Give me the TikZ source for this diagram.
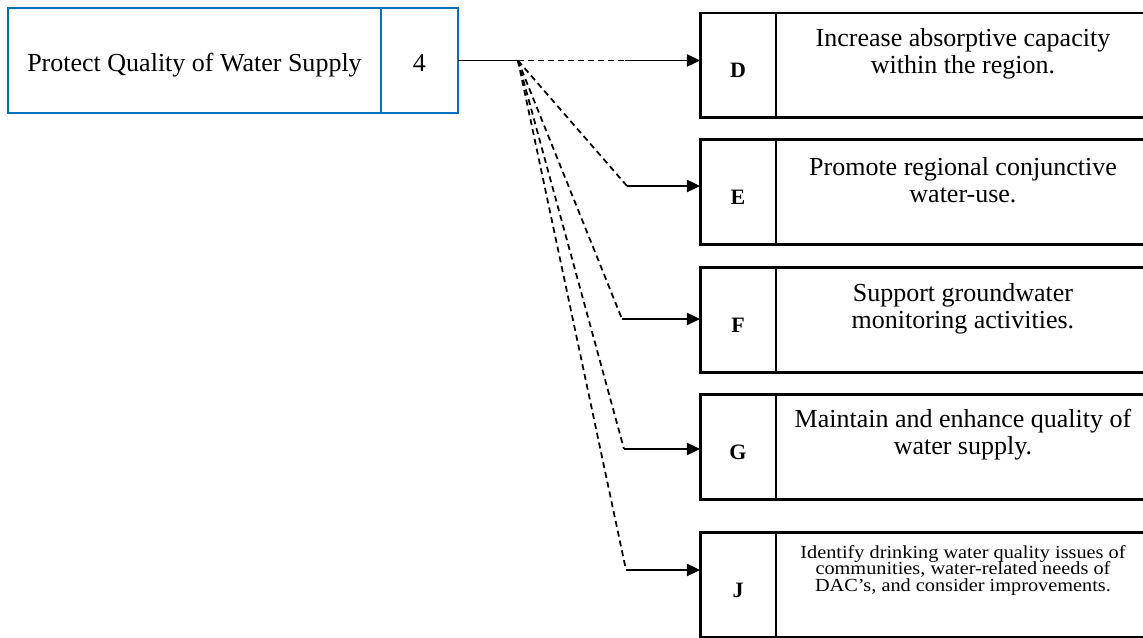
\documentclass[tikz,border=0pt]{standalone}
\usepackage{fontspec}
\setmainfont{Liberation Serif}
\newfontfamily\widefont[FakeStretch=1.1]{Liberation Serif}
\newcommand\tightfont{\widefont\fontsize{10.5}{9.4}\selectfont\lineskiplimit=-20pt\relax}
\usepackage{xcolor}
\usepackage{tikz}
\usetikzlibrary{arrows.meta,positioning}
\definecolor{srcblue}{RGB}{0,112,192}

\begin{document}
\begin{tikzpicture}[
    x=0.02cm, y=-0.02cm,
    every node/.style={font=\fontsize{14.8}{15.5}\selectfont},
    srcbox/.style={
      rectangle, draw=srcblue, line width=1.6pt, outer sep=0pt,
      inner sep=0pt, minimum height=2.1cm, text height=15.8pt, text depth=3.2pt
    },
    keybox/.style={
      rectangle, draw=black, line width=1.7pt, outer sep=0pt, inner sep=0pt,
      minimum width=1.52cm, minimum height=2.1cm, text height=13.4pt, text depth=0pt,
      font=\fontsize{12.5}{14}\selectfont\bfseries
    },
    goalbox/.style={
      rectangle, draw=black, line width=1.7pt, outer sep=0pt, inner sep=0pt,
      minimum width=7.48cm, minimum height=2.1cm
    },
    goaltext/.style={align=center, inner sep=0pt},
    link/.style={dash pattern=on 3.4pt off 2.3pt, line width=1pt},
    arr/.style={-{Triangle[length=7.5pt,width=7pt]}, line width=1.1pt}
  ]
    \clip (0,0) rectangle (1143,638);

    % Objective
    \node[srcbox, minimum width=7.46cm] (obj) at (194.5,60.5) {Protect Quality of Water Supply};
    \node[srcbox, minimum width=1.54cm, right=0pt of obj] (num) {4};

    % Goals
    \node[keybox] (kD) at (738,65.5) {D};
    \node[goalbox, right=0pt of kD] (gD) {};
    \node[goaltext] (tD) at ([yshift=0.24cm]gD.center) {Increase absorptive capacity\\within the region.};

    \node[keybox, below=0.44cm of kD] (kE) {E};
    \node[goalbox, right=0pt of kE] (gE) {};
    \node[goaltext] (tE) at ([yshift=0.25cm]gE.center) {Promote regional conjunctive\\water-use.};

    \node[keybox, below=0.46cm of kE] (kF) {F};
    \node[goalbox, right=0pt of kF] (gF) {};
    \node[goaltext] (tF) at ([yshift=0.24cm]gF.center) {Support groundwater\\monitoring activities.};

    \node[keybox, below=0.44cm of kF] (kG) {G};
    \node[goalbox, right=0pt of kG] (gG) {};
    \node[goaltext] (tG) at ([yshift=0.26cm]gG.center) {Maintain and enhance quality of\\water supply.};

    \node[keybox, below=0.66cm of kG] (kJ) {J};
    \node[goalbox, right=0pt of kJ] (gJ) {};
    \node[goaltext, font=\tightfont] (tJ) at ([yshift=0.3cm]gJ.center)
      {Identify drinking water quality issues of\\communities, water-related needs of\\DAC’s, and consider improvements.};

    % Links
    \coordinate[right=1.2cm of num.east] (hub);
    \coordinate (bD) at (625,60.5);
    \coordinate (bE) at (627,186);
    \coordinate (bF) at (622,319);
    \coordinate (bG) at (624,449);
    \coordinate (bJ) at (626,570);

    \draw[line width=1.1pt] (num.east) -- (hub);
    \draw[link] (hub) -- (bD);
    \draw[link] (hub) -- (bE);
    \draw[link] (hub) -- (bF);
    \draw[link] (hub) -- (bG);
    \draw[link] (hub) -- (bJ);
    \draw[arr] (bD) -- (bD -| kD.west);
    \draw[arr] (bE) -- (bE -| kE.west);
    \draw[arr] (bF) -- (bF -| kF.west);
    \draw[arr] (bG) -- (bG -| kG.west);
    \draw[arr] (bJ) -- (bJ -| kJ.west);

  \end{tikzpicture}
\end{document}
